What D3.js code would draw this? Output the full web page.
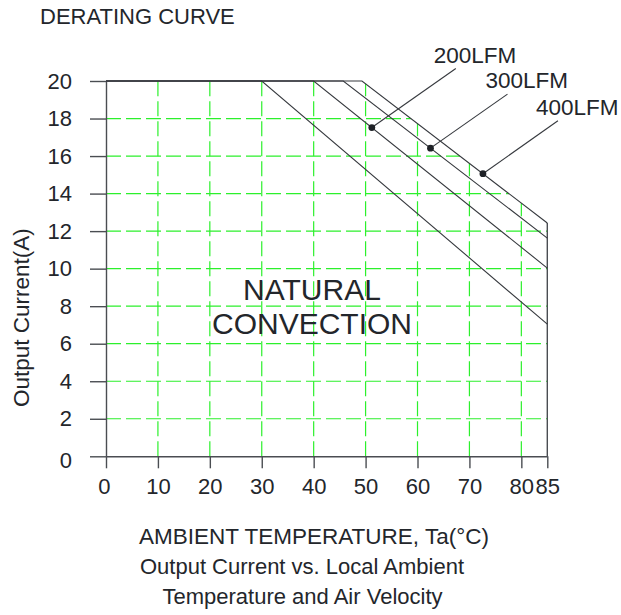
<!DOCTYPE html>
<html>
<head>
<meta charset="utf-8">
<script src="https://cdn.jsdelivr.net/npm/d3@7"></script>
<style>
  html, body { margin: 0; padding: 0; background: #fff; }
  svg { display: block; }
  text { font-family: "Liberation Sans", Arial, Helvetica, sans-serif; fill: #23262b; }
</style>
</head>
<body>
<svg id="chart" width="621" height="615"></svg>
<script>
// Derating curves: output current held at the maximum until the knee
// temperature, then falling linearly to the value at 85 °C.
const curveNames   = ["NATURAL CONVECTION", "200LFM", "300LFM", "400LFM"];
const kneeTemp     = [30, 40, 45.7, 49.3];      // °C where derating starts
const currentAt85  = [7.04, 10.03, 11.63, 12.43]; // A at 85 °C
const maxCurrent   = 20;
const maxTemp      = 85;

// Labelled airflow curves and the temperature where each marker sits
const markerCurves = ["200LFM", "300LFM", "400LFM"];
const markerTemp   = [51.2, 62.5, 72.6];

// Axis ticks
const xTicks = [0, 10, 20, 30, 40, 50, 60, 70, 80, 85];
const yTicks = [0, 2, 4, 6, 8, 10, 12, 14, 16, 18, 20];
const xGrid  = [10, 20, 30, 40, 50, 60, 70, 80];
const yGrid  = [2, 4, 6, 8, 10, 12, 14, 16, 18];

const svg = d3.select("#chart");
const x = d3.scaleLinear().domain([0, 85]).range([106, 547.3]);
const y = d3.scaleLinear().domain([0, 20]).range([456.3, 81]);

const curves = curveNames.map((name, i) => ({
  name,
  points: [[0, maxCurrent], [kneeTemp[i], maxCurrent], [maxTemp, currentAt85[i]]]
}));
function currentAt(curve, t) {
  const [, a, b] = curve.points;
  if (t <= a[0]) return maxCurrent;
  return a[1] + (b[1] - a[1]) * (t - a[0]) / (b[0] - a[0]);
}
const envelope = curves[curves.length - 1];
function tempAt(curve, c) {
  const [, a, b] = curve.points;
  if (c <= b[1]) return maxTemp;
  return a[0] + (b[0] - a[0]) * (c - a[1]) / (b[1] - a[1]);
}

// Grid, bounded by the highest airflow curve
const gridColor = "#2cf02c";
svg.append("g").selectAll("line").data(xGrid).join("line")
  .attr("x1", d => x(d)).attr("x2", d => x(d))
  .attr("y1", y(0)).attr("y2", d => y(currentAt(envelope, d)))
  .attr("stroke", gridColor).attr("stroke-width", 1.2)
  .attr("stroke-dasharray", "15,5");
svg.append("g").selectAll("line").data(yGrid).join("line")
  .attr("y1", d => y(d)).attr("y2", d => y(d))
  .attr("x1", x(0)).attr("x2", d => x(tempAt(envelope, d)))
  .attr("stroke", gridColor).attr("stroke-width", 1.2)
  .attr("stroke-dasharray", "15,5");

// Axes
const axisColor = "#4a4d52";
const xAxis = svg.append("g").attr("transform", `translate(0,${y(0)})`)
  .call(d3.axisBottom(x).tickValues(xTicks).tickSize(12).tickSizeOuter(0).tickPadding(10));
const yAxis = svg.append("g").attr("transform", `translate(${x(0)},0)`)
  .call(d3.axisLeft(y).tickValues(yTicks).tickSize(16).tickSizeOuter(0).tickPadding(18));
[xAxis, yAxis].forEach(g => {
  g.selectAll("path, line").attr("stroke", axisColor).attr("stroke-width", 1.4);
  g.selectAll("text").attr("font-size", 22).attr("fill", "#23262b")
    .style("font-family", '"Liberation Sans", Arial, Helvetica, sans-serif');
});
// The zero label of the current axis sits a little below its tick
yAxis.selectAll(".tick").filter(d => d === 0).select("text").attr("dy", "0.5em");
xAxis.selectAll(".tick").filter(d => d === 0).select("text").attr("dx", "-0.1em");

// Right edge at 85 °C up to the highest curve
svg.append("line")
  .attr("x1", x(maxTemp)).attr("x2", x(maxTemp))
  .attr("y1", y(0)).attr("y2", y(currentAt85[currentAt85.length - 1]))
  .attr("stroke", axisColor).attr("stroke-width", 1.4);

// Curves
const line = d3.line().x(d => x(d[0])).y(d => y(d[1]));
svg.append("g").selectAll("path").data(curves).join("path")
  .attr("d", d => line(d.points))
  .attr("fill", "none").attr("stroke", "#36393e").attr("stroke-width", 1.1);

// Airflow markers with leader lines and labels
const leaderOffset = [[84, -59], [77, -54], [75, -53]];
markerCurves.forEach((name, i) => {
  const c = curves.find(k => k.name === name);
  const t = markerTemp[i];
  const px = x(t), py = y(currentAt(c, t));
  const ex = px + leaderOffset[i][0], ey = py + leaderOffset[i][1];
  svg.append("line").attr("x1", px).attr("y1", py).attr("x2", ex).attr("y2", ey)
    .attr("stroke", "#36393e").attr("stroke-width", 1.1);
  svg.append("circle").attr("cx", px).attr("cy", py).attr("r", 3.4).attr("fill", "#1e2126");
  svg.append("text").attr("x", ex - 22).attr("y", ey - 6)
    .attr("font-size", 22.5).text(name);
});

// Natural convection label inside the plot
svg.append("text").attr("x", 312).attr("y", 299.5).attr("text-anchor", "middle")
  .attr("font-size", 30).text("NATURAL");
svg.append("text").attr("x", 312).attr("y", 333.5).attr("text-anchor", "middle")
  .attr("font-size", 30).text("CONVECTION");

// Titles
svg.append("text").attr("x", 40).attr("y", 23.5).attr("font-size", 22).text("DERATING CURVE");
svg.append("text").attr("transform", "translate(29,407) rotate(-90)")
  .attr("font-size", 22.5).text("Output Current(A)");
svg.append("text").attr("x", 314).attr("y", 543.5).attr("text-anchor", "middle")
  .attr("font-size", 22.5).text("AMBIENT TEMPERATURE, Ta(°C)");
svg.append("text").attr("x", 302).attr("y", 573.5).attr("text-anchor", "middle")
  .attr("font-size", 22).text("Output Current vs. Local Ambient");
svg.append("text").attr("x", 302.5).attr("y", 604).attr("text-anchor", "middle")
  .attr("font-size", 22).text("Temperature and Air Velocity");
</script>
</body>
</html>
